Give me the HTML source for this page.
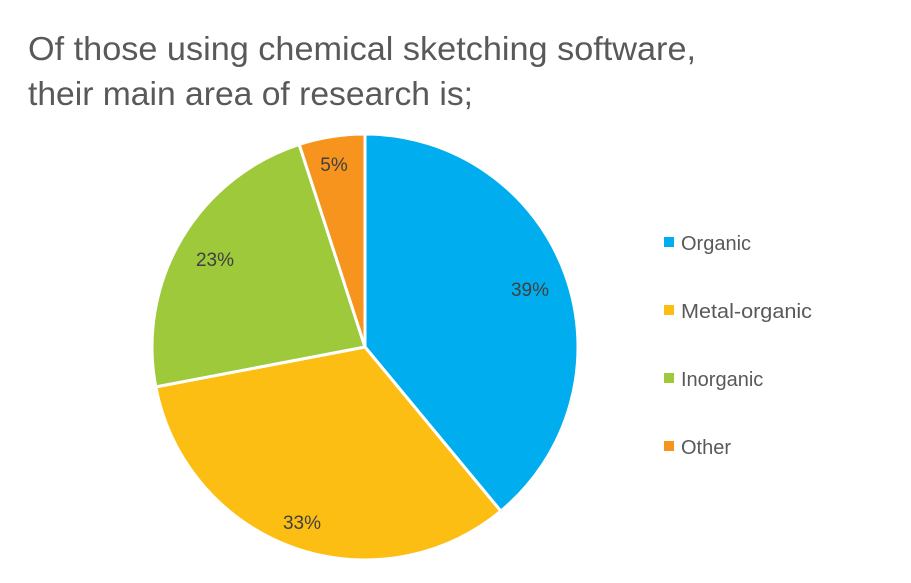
<!DOCTYPE html>
<html><head><meta charset="utf-8"><style>
body{margin:0;background:#fff;}
svg{display:block;font-family:"Liberation Sans",sans-serif;}
</style></head><body>
<svg width="911" height="583" viewBox="0 0 911 583">
<rect width="911" height="583" fill="#fff"/>
<text x="28" y="60" font-size="33" fill="#595959" textLength="668" lengthAdjust="spacingAndGlyphs">Of those using chemical sketching software,</text>
<text x="28" y="105" font-size="33" fill="#595959" textLength="445" lengthAdjust="spacingAndGlyphs">their main area of research is;</text>
<g stroke="#fff" stroke-width="3" stroke-linejoin="round">
<path d="M365,347 L365,134 A213,213 0 0 1 500.8,511.1 Z" fill="#00ADEF"/>
<path d="M365,347 L500.8,511.1 A213,213 0 0 1 155.8,386.9 Z" fill="#FDBE13"/>
<path d="M365,347 L155.8,386.9 A213,213 0 0 1 299.2,144.4 Z" fill="#9DC93B"/>
<path d="M365,347 L299.2,144.4 A213,213 0 0 1 365,134 Z" fill="#F7941D"/>
</g>
<g font-size="19" fill="#404040" text-anchor="middle">
<text x="530" y="296">39%</text>
<text x="302" y="529">33%</text>
<text x="215" y="266">23%</text>
<text x="334" y="171">5%</text>
</g>
<g font-size="20" fill="#595959">
<rect x="664" y="237" width="10" height="10" fill="#00ADEF"/><text x="681" y="250">Organic</text>
<rect x="664" y="305" width="10" height="10" fill="#FDBE13"/><text x="681" y="318" textLength="131" lengthAdjust="spacingAndGlyphs">Metal-organic</text>
<rect x="664" y="373" width="10" height="10" fill="#9DC93B"/><text x="681" y="386">Inorganic</text>
<rect x="664" y="441" width="10" height="10" fill="#F7941D"/><text x="681" y="454">Other</text>
</g>
</svg>
</body></html>
